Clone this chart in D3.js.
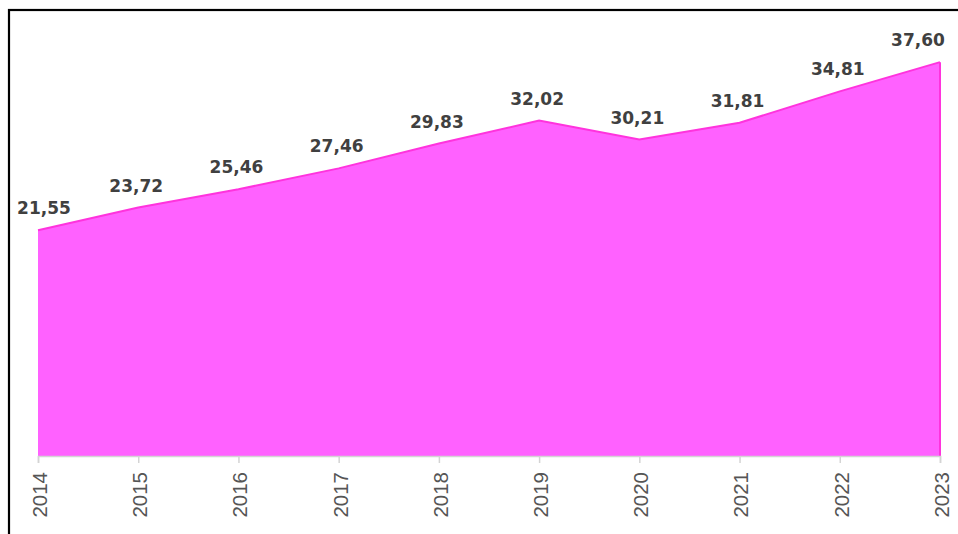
<!DOCTYPE html>
<html>
<head>
<meta charset="utf-8">
<script src="https://cdn.jsdelivr.net/npm/d3@7"></script>
<style>
  html, body { margin: 0; padding: 0; background: #fff; overflow: hidden; }
  svg { display: block; }
</style>
</head>
<body>
<svg id="chart" width="958" height="534"></svg>
<script>
// Yearly values shown as a filled area
const years = ["2014", "2015", "2016", "2017", "2018", "2019", "2020", "2021", "2022", "2023"];
const values = [21.55, 23.72, 25.46, 27.46, 29.83, 32.02, 30.21, 31.81, 34.81, 37.60];
const yDomain = [0, 40];

const svg = d3.select("#chart");
const W = 958, H = 534;

// Frame around the chart (runs off the right and bottom edges)
svg.append("rect")
  .attr("x", 9).attr("y", 10)
  .attr("width", W + 20).attr("height", H + 20)
  .attr("fill", "none").attr("stroke", "#000").attr("stroke-width", 2.2);

const x = d3.scalePoint().domain(years).range([38, 940]);
const y = d3.scaleLinear().domain(yDomain).range([456, 37]);

const data = years.map((yr, i) => ({ yr, v: values[i] }));

// Area fill
svg.append("path")
  .datum(data)
  .attr("fill", "#ff61ff")
  .attr("d", d3.area().x(d => x(d.yr)).y0(y(0)).y1(d => y(d.v)));

// Top edge and right edge of the area
svg.append("path")
  .datum(data)
  .attr("fill", "none")
  .attr("stroke", "#ff33dd")
  .attr("stroke-width", 2)
  .attr("d", d3.line().x(d => x(d.yr)).y(d => y(d.v)));
svg.append("line")
  .attr("x1", x(years[years.length - 1])).attr("x2", x(years[years.length - 1]))
  .attr("y1", y(values[values.length - 1])).attr("y2", y(0))
  .attr("stroke", "#ff33dd").attr("stroke-width", 2);

// X axis
const axis = svg.append("g")
  .attr("transform", `translate(0,${y(0)})`)
  .call(d3.axisBottom(x).tickSize(7).tickPadding(4));
axis.select(".domain").attr("stroke", "#d4d4d4").attr("stroke-width", 1.5);
axis.selectAll(".tick line").attr("stroke", "#d4d4d4").attr("stroke-width", 1.5);
axis.selectAll(".tick text")
  .attr("transform", "rotate(-90)")
  .attr("text-anchor", "end")
  .attr("x", -16)
  .attr("y", 1)
  .attr("dy", "0.36em")
  .attr("fill", "#555555")
  .style("font-family", "'Liberation Sans', Arial, sans-serif")
  .style("font-size", "20.5px");

// Value labels above each point
const fmt = v => v.toFixed(2).replace(".", ",");
svg.append("g")
  .selectAll("text")
  .data(data)
  .join("text")
  .attr("x", (d, i) => x(d.yr) + (i === 0 ? 6 : i === data.length - 1 ? -22 : -2))
  .attr("y", d => y(d.v) - 16)
  .attr("text-anchor", "middle")
  .attr("fill", "#404040")
  .style("font-family", "'DejaVu Sans', Verdana, sans-serif")
  .style("font-weight", "bold")
  .style("font-size", "17px")
  .text(d => fmt(d.v));
</script>
</body>
</html>
